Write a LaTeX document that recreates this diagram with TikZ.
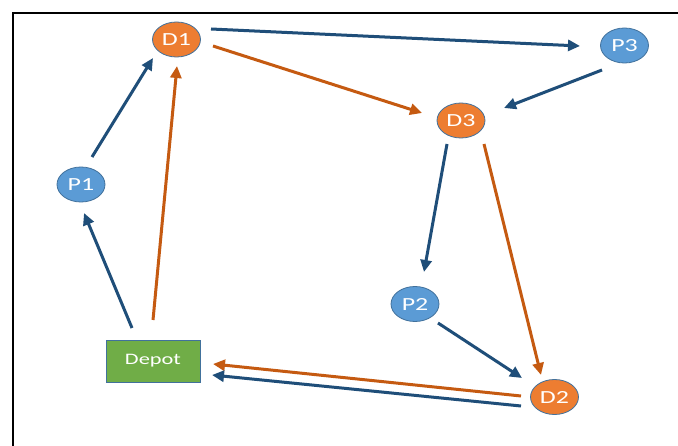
\documentclass[tikz,border=0pt]{standalone}
\usepackage{fontspec}
\setmainfont{Carlito}
\newfontfamily\widefont[FakeStretch=1.4]{Carlito}
\usetikzlibrary{arrows.meta,shapes.geometric}
\definecolor{lblue}{HTML}{1F4E79}
\definecolor{lorange}{HTML}{C55A11}
\definecolor{fblue}{HTML}{5B9BD5}
\definecolor{forange}{HTML}{ED7D31}
\definecolor{fgreen}{HTML}{70AD47}
\definecolor{nborder}{HTML}{41719C}
\tikzset{
  pnode/.style={ellipse, draw=nborder, line width=0.8pt, fill=fblue, minimum width=48pt, minimum height=35pt, inner sep=0pt, text=white, font=\widefont\fontsize{18.5}{18.5}\selectfont},
  dnode/.style={pnode, fill=forange},
  depotbox/.style={rectangle, draw=nborder, line width=0.8pt, fill=fgreen, minimum width=94pt, minimum height=42pt, inner sep=0pt, text=white, font=\widefont\fontsize{16}{16}\selectfont},
  bluearrow/.style={draw=lblue, line width=3pt, -{Triangle[length=12pt,width=11pt]}},
  orangearrow/.style={draw=lorange, line width=3pt, -{Triangle[length=12pt,width=11pt]}},
}
\begin{document}
\begin{tikzpicture}[x=1pt,y=-1pt]
\useasboundingbox (0,0) rectangle (678,446);
\fill[white] (0,0) rectangle (678,446);
\draw[line width=2pt] (13,446) -- (13,13) -- (678,13);
\node[dnode] (d1) at (176.5,39.5) {D1};
\node[pnode] (p1) at (81,184.5) {P1};
\node[pnode] (p3) at (624.5,45.5) {P3};
\node[dnode] (d3) at (461,120.5) {D3};
\node[pnode] (p2) at (415,304) {P2};
\node[dnode] (d2) at (554.5,397) {D2};
\node[depotbox] (depot) at (153,361) {Depot};
% connectors
\draw[bluearrow] ([shift={(11,-27.5)}]p1.center) -- ([shift={(-23.5,18.5)}]d1.center);
\draw[orangearrow] ([shift={(0,-41)}]depot.center) -- ([shift={(0.5,26.5)}]d1.center);
\draw[bluearrow] ([shift={(-21,-33)}]depot.center) -- ([shift={(3,28.5)}]p1.center);
\draw[bluearrow] ([shift={(34.5,-10.5)}]d1.center) -- ([shift={(-44.5,0.5)}]p3.center);
\draw[orangearrow] ([shift={(36.5,6.5)}]d1.center) -- ([shift={(-39,-7.5)}]d3.center);
\draw[bluearrow] ([shift={(-22.5,24.5)}]p3.center) -- ([shift={(43,-12.5)}]d3.center);
\draw[bluearrow] ([shift={(-14,23.5)}]d3.center) -- ([shift={(9,-32)}]p2.center);
\draw[orangearrow] ([shift={(23,23.5)}]d3.center) -- ([shift={(-13.5,-22)}]d2.center);
\draw[bluearrow] ([shift={(23,19)}]p2.center) -- ([shift={(-32.5,-19)}]d2.center);
\draw[orangearrow] ([shift={(-33.5,-1)}]d2.center) -- ([shift={(60,3)}]depot.center);
\draw[bluearrow] ([shift={(-33.5,9)}]d2.center) -- ([shift={(59,14)}]depot.center);
\end{tikzpicture}
\end{document}
